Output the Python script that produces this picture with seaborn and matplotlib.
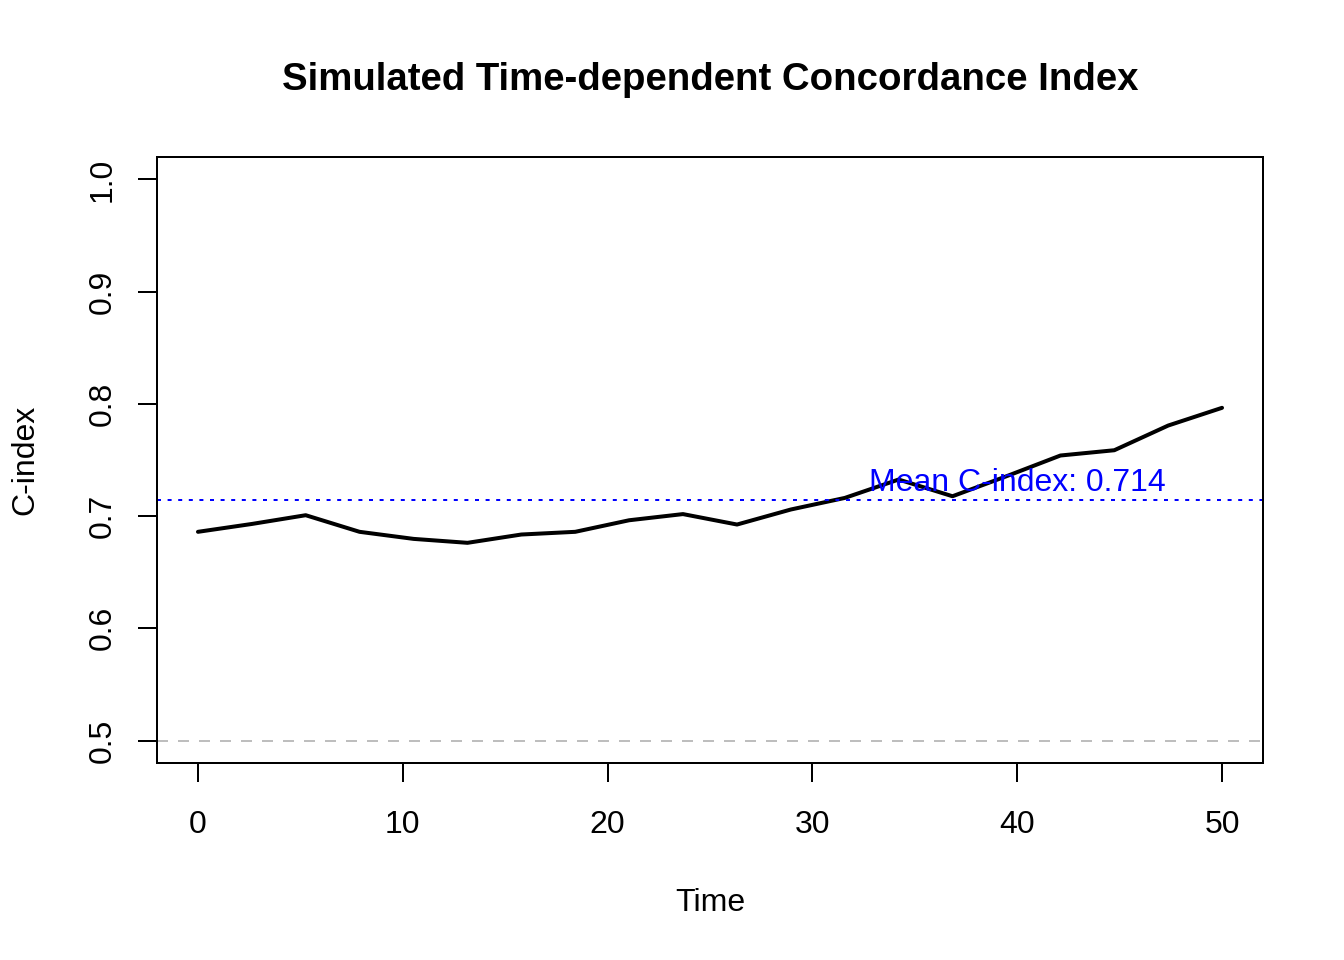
import numpy as np
import pandas as pd
import matplotlib
matplotlib.use("Agg")
import matplotlib.pyplot as plt
import matplotlib.transforms as mtransforms
import seaborn as sns

# ---- data ----
time_points = [0.0, 2.63, 5.26, 7.89, 10.53, 13.16, 15.79, 18.42, 21.05, 23.68,
               26.32, 28.95, 31.58, 34.21, 36.84, 39.47, 42.11, 44.74, 47.37, 50.0]
c_index = [0.686, 0.693, 0.7008, 0.686, 0.6797, 0.6762, 0.6836, 0.686, 0.6963, 0.7018,
           0.6925, 0.7059, 0.7162, 0.7326, 0.7177, 0.7355, 0.754, 0.7587, 0.7807, 0.7965]
x_ticks = [0, 10, 20, 30, 40, 50]
y_ticks = [0.5, 0.6, 0.7, 0.8, 0.9, 1.0]
mean_c = 0.714
baseline = 0.5
title = "Simulated Time-dependent Concordance Index"
x_label = "Time"
y_label = "C-index"

df = pd.DataFrame({"Time": time_points, "C": c_index})

sns.set_style("white")
plt.rcParams["font.family"] = ["Liberation Sans", "DejaVu Sans"]
plt.rcParams["text.color"] = "black"
plt.rcParams["axes.labelcolor"] = "black"
plt.rcParams["xtick.color"] = "black"
plt.rcParams["ytick.color"] = "black"

fig = plt.figure(figsize=(7, 5), dpi=192)
ax = fig.add_axes([157 / 1344, 1 - 763 / 960, (1263 - 157) / 1344, (763 - 157) / 960])

sns.lineplot(data=df, x="Time", y="C", ax=ax, color="black", linewidth=1.5)

ax.axhline(mean_c, color="blue", linewidth=0.75, linestyle=(0, (2, 3.3)))
ax.axhline(baseline, color="#BEBEBE", linewidth=0.75, linestyle=(0, (5.5, 5.0)))
offset = mtransforms.ScaledTranslation(0, -2.0 / 72, fig.dpi_scale_trans)
ax.text(40, mean_c + 0.02, f"Mean C-index: {mean_c:.3f}", color="blue",
        ha="center", va="center", fontsize=12, transform=ax.transData + offset)

ax.set_xlim(-2, 52)
ax.set_ylim(0.48, 1.02)
ax.set_xticks(x_ticks)
ax.set_xticklabels([str(v) for v in x_ticks], fontsize=12)
ax.set_yticks(y_ticks)
ax.set_yticklabels([f"{v:.1f}" for v in y_ticks], fontsize=12, rotation=90, va="center")

ax.tick_params(axis="x", direction="out", length=7.2, width=0.75, color="black", pad=10.6,
               bottom=True, top=False, labelcolor="black")
ax.tick_params(axis="y", direction="out", length=7.2, width=0.75, color="black", pad=7.5,
               left=True, right=False, labelcolor="black")

for s in ax.spines.values():
    s.set_visible(True)
    s.set_color("black")
    s.set_linewidth(0.75)

ax.set_xlabel(x_label, fontsize=12, color="black")
ax.set_ylabel(y_label, fontsize=12, color="black")
ax.xaxis.set_label_coords(0.5, -(903 - 763) / 606)
ax.xaxis.label.set_va("center")
ax.yaxis.set_label_coords(-(157 - 25) / 1106, 0.5)
ax.yaxis.label.set_va("center")
ax.yaxis.label.set_ha("center")

fig.text((157 + 1263) / 2 / 1344, 1 - 80 / 960, title, ha="center", va="center",
         fontsize=14.4, fontweight="bold", color="black")

fig.savefig("out.png", dpi=192, facecolor="white")
